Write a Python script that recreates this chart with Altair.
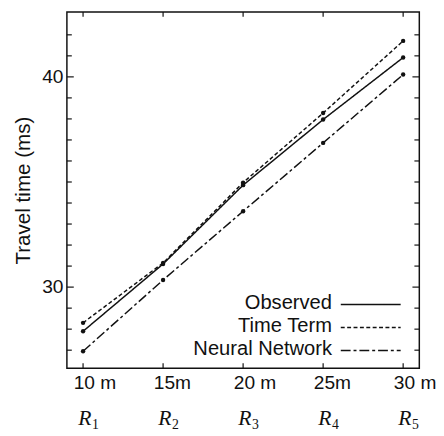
import altair as alt
import pandas as pd

# ---- data ----
distances = [10, 15, 20, 25, 30]
distance_labels = ["10 m", "15m", "20 m", "25m", "30 m"]
receivers = ["1", "2", "3", "4", "5"]
observed = [27.9, 31.1, 34.85, 37.97, 40.92]
time_term = [28.3, 31.15, 34.97, 38.28, 41.71]
neural_net = [26.95, 30.34, 33.61, 36.86, 40.11]
series_names = ["Observed", "Time Term", "Neural Network"]
series_dash = [[1, 0], [4, 2.5], [10, 3, 3, 3]]
y_major = [30, 40]
y_minor = [27, 28, 29, 31, 32, 33, 34, 35, 36, 37, 38, 39, 41, 42]

W, H = 359, 363
x_dom = [8.99, 31.01]
y_dom = [26.14, 43.09]
INK = "#111111"
SANS = "Liberation Sans"
SERIF = "Liberation Serif"

rows = []
for name, vals in zip(series_names, [observed, time_term, neural_net]):
    for d, v in zip(distances, vals):
        rows.append({"distance": d, "time": v, "series": name})
df = pd.DataFrame(rows)

xs = alt.Scale(domain=x_dom, nice=False, zero=False)
ys = alt.Scale(domain=y_dom, nice=False, zero=False)

label_expr = " : ".join(
    f"datum.value == {d} ? '{l}'" for d, l in zip(distances, distance_labels)
) + " : ''"

X = alt.X("distance:Q", scale=xs,
          axis=alt.Axis(values=distances, labelExpr=label_expr, title=None,
                        ticks=False, domain=False, grid=False,
                        labelAlign="left", labelOffset=-10, labelPadding=6,
                        labelFontSize=19.5, labelFont=SANS, labelColor=INK))
Y = alt.Y("time:Q", scale=ys,
          axis=alt.Axis(values=y_major, title="Travel time (ms)", ticks=False,
                        domain=False, grid=False, labelPadding=4,
                        labelFontSize=19.5, labelFont=SANS, labelColor=INK,
                        titleFontSize=21, titleFont=SANS, titleFontWeight="normal",
                        titleColor=INK, titlePadding=8, format="d"))

lines = alt.Chart(df).mark_line(color=INK, strokeWidth=1.5).encode(
    x=X, y=Y,
    strokeDash=alt.StrokeDash("series:N",
                              scale=alt.Scale(domain=series_names, range=series_dash),
                              legend=None),
    detail="series:N",
)
points = alt.Chart(df).mark_point(filled=True, color=INK, size=20, opacity=1).encode(
    x=alt.X("distance:Q", scale=xs), y=alt.Y("time:Q", scale=ys)
)

# inward ticks
def ytick_layer(vals, length):
    d = pd.DataFrame({"v": vals})
    left = alt.Chart(d).mark_rule(color=INK, strokeWidth=1.2).encode(
        y=alt.Y("v:Q", scale=ys), x=alt.value(0), x2=alt.value(length))
    right = alt.Chart(d).mark_rule(color=INK, strokeWidth=1.2).encode(
        y=alt.Y("v:Q", scale=ys), x=alt.value(W), x2=alt.value(W - length))
    return [left, right]

xt = pd.DataFrame({"v": distances})
xbot = alt.Chart(xt).mark_rule(color=INK, strokeWidth=1.2).encode(
    x=alt.X("v:Q", scale=xs), y=alt.value(H), y2=alt.value(H - 5))
xtop = alt.Chart(xt).mark_rule(color=INK, strokeWidth=1.2).encode(
    x=alt.X("v:Q", scale=xs), y=alt.value(0), y2=alt.value(5))

# receiver labels R_1..R_5
rdf = pd.DataFrame({"v": distances, "R": ["R"] * 5, "sub": receivers})
r_main = alt.Chart(rdf).mark_text(font=SERIF, fontStyle="italic", fontSize=22,
                                  align="left", baseline="alphabetic", dx=-5,
                                  color=INK).encode(
    x=alt.X("v:Q", scale=xs), y=alt.value(421), text="R:N")
r_sub = alt.Chart(rdf).mark_text(font=SERIF, fontSize=14, align="left",
                                 baseline="alphabetic", dx=9, color=INK).encode(
    x=alt.X("v:Q", scale=xs), y=alt.value(425), text="sub:N")

# custom legend (label left of sample line)
legend_layers = []
for i, (name, dash) in enumerate(zip(series_names, series_dash)):
    ly = 298 + i * 23.5
    data = alt.Data(values=[{"series": name}])
    legend_layers.append(
        alt.Chart(data).mark_text(font=SANS, fontSize=20.5, align="right",
                                  baseline="alphabetic", color=INK).encode(
            x=alt.value(270), y=alt.value(ly + 5), text="series:N"))
    legend_layers.append(
        alt.Chart(data).mark_rule(color=INK, strokeWidth=1.5, strokeDash=dash).encode(
            x=alt.value(279), x2=alt.value(340), y=alt.value(ly)))

chart = alt.layer(
    lines, points, *ytick_layer(y_minor, 5), *ytick_layer(y_major, 7),
    xbot, xtop, r_main, r_sub, *legend_layers
).properties(
    width=W, height=H,
    autosize=alt.AutoSizeParams(type="none"),
    padding={"left": 60, "top": 0, "right": 17, "bottom": 64},
).configure(
    background="white"
).configure_view(
    stroke=INK, strokeWidth=1.5
)

chart.save("out.html", embed_options={"renderer": "svg", "actions": False})
